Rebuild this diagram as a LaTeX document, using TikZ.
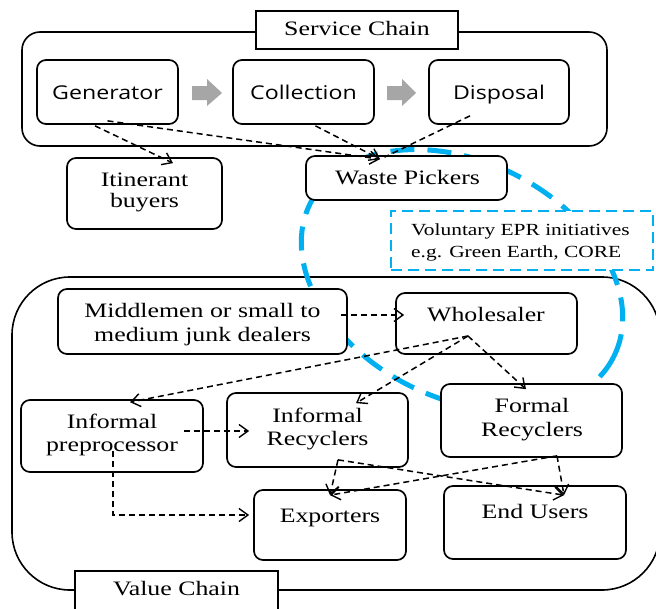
\documentclass[tikz,border=0pt]{standalone}
\usepackage{fontspec}
\setmainfont{Liberation Serif}[FakeStretch=1.26]
\newfontfamily\stagefont{Open Sans}[FakeStretch=1.22]
\usetikzlibrary{arrows.meta,calc}
\definecolor{eprblue}{RGB}{0,176,240}
\definecolor{flowgray}{RGB}{166,166,166}

\begin{document}
\begin{tikzpicture}[x=1pt,y=-1pt,
  box/.style={draw, line width=1.7pt, rounded corners=9pt, fill=white, inner sep=0pt},
  chainbox/.style={draw, line width=1.6pt},
  tagbox/.style={draw, line width=1.1pt, fill=white, inner sep=0pt},
  txt/.style={font=\fontsize{20.5}{23.5}\selectfont, align=center, inner sep=0pt},
  oneline/.style={text height=13.5pt, text depth=0pt},
  stage/.style={font=\stagefont\fontsize{19}{22}\selectfont, inner sep=0pt,
    text height=13.5pt, text depth=0pt},
  flow/.style={line width=1.5pt, dash pattern=on 6pt off 4pt,
    -{Straight Barb[length=9pt,width=13pt,line width=1.4pt]}},
  plainflow/.style={line width=1.5pt, dash pattern=on 6pt off 4pt},
  blockarrow/.style={fill=flowgray}
]
\useasboundingbox (0,0) rectangle (656,608);
\clip (0,0) rectangle (656,608);

% outer frames of the two chains
\draw[chainbox, rounded corners=18pt] (22,32) rectangle (607,146);
\draw[chainbox, rounded corners=58pt] (12,277) rectangle (660,590);

% EPR influence zone
\draw[eprblue, line width=5pt, dash pattern=on 24pt off 13pt,
      rotate around={-27:(462,280)}] (462,280) ellipse [x radius=170, y radius=118];
\node[draw=eprblue, line width=2.6pt, dash pattern=on 11pt off 6pt, fill=white,
      minimum width=262pt, minimum height=59pt, inner sep=0pt] (epr) at (522,240.5) {};
\node[anchor=west, align=left, inner sep=0pt, font=\fontsize{17}{22}\selectfont]
      (epr-t) at (411,242) {Voluntary EPR initiatives\\e.g. Green Earth, CORE};

% service chain stages
\node[box, minimum width=141pt, minimum height=64pt] (gen) at (107.5,92) {};
\node[box, minimum width=141pt, minimum height=64pt] (col) at (303.5,92) {};
\node[box, minimum width=140pt, minimum height=64pt] (disp) at (499,92) {};
\node[stage] (gen-t) at (107.5,92.5) {Generator};
\node[stage] (col-t) at (303.5,92.5) {Collection};
\node[stage] (disp-t) at (499,92.5) {Disposal};
\fill[blockarrow] (192,86) -- (207,86) -- (207,79) -- (222,93) -- (207,106) -- (207,100) -- (192,100) -- cycle;
\fill[blockarrow] (387,86) -- (402,86) -- (402,79) -- (416,93) -- (402,106) -- (402,100) -- (387,100) -- cycle;

\node[box, minimum width=155pt, minimum height=71pt] (itin) at (144.5,193.5) {};
\node[txt, font=\fontsize{20.5}{21.5}\selectfont] (itin-t) at (144.5,192.5) {Itinerant\\buyers};
\node[box, minimum width=201pt, minimum height=44pt] (wp) at (406.5,178) {};
\node[txt, oneline] (wp-t) at (407.5,178) {Waste Pickers};

% value chain actors
\node[box, minimum width=289pt, minimum height=65pt] (mid) at (202.5,321.5) {};
\node[txt] (mid-t) at (202.5,324.5) {Middlemen or small to\\medium junk dealers};
\node[box, minimum width=181pt, minimum height=61pt] (whs) at (486.5,323.5) {};
\node[txt, oneline] (whs-t) at (486,315) {Wholesaler};
\node[box, minimum width=182pt, minimum height=72pt] (prep) at (112,436) {};
\node[txt] (prep-t) at (112,435) {Informal\\preprocessor};
\node[box, minimum width=181pt, minimum height=74pt] (infrec) at (317.5,430) {};
\node[txt] (infrec-t) at (317.5,429) {Informal\\Recyclers};
\node[box, minimum width=181pt, minimum height=73pt] (formal) at (531.5,420.5) {};
\node[txt] (formal-t) at (532,419.5) {Formal\\Recyclers};
\node[box, minimum width=152pt, minimum height=70pt] (exp) at (330,525) {};
\node[txt, oneline] (exp-t) at (330,516) {Exporters};
\node[box, minimum width=182pt, minimum height=73pt] (endu) at (535,522.5) {};
\node[txt, oneline] (endu-t) at (535,512) {End Users};

% chain titles
\node[tagbox, minimum width=202pt, minimum height=38pt] (svc) at (357,30) {};
\node[txt, oneline] (svc-t) at (357,29) {Service Chain};
\node[tagbox, minimum width=203pt, minimum height=58pt] (val) at (176.5,600) {};
\node[txt, oneline] (val-t) at (176.5,589) {Value Chain};

% flows in the service chain
\draw[flow] ($(gen.south)+(-12.5,1)$) -- ($(itin.north)+(28.5,6)$);
\draw[flow] ($(gen.south)+(0,-4)$) -- ($(wp.north)+(-26.5,4)$);
\draw[flow] ($(col.south)+(12,1)$) -- ($(wp.north)+(-26.5,4)$);
\draw[plainflow] ($(disp.south)+(-29,-9)$) -- ($(wp.north)+(-22,2)$);

% flows in the value chain
\draw[flow] ($(mid.east)+(-7,-6.5)$) -- ($(whs.west)+(9,-8.5)$);
\draw[flow] ($(whs.center)+(-18.5,12.5)$) -- ($(prep.north)+(18,3)$);
\draw[flow] ($(whs.center)+(-18.5,12.5)$) -- ($(infrec.north)+(38.5,11)$);
\draw[flow] ($(whs.center)+(-18.5,12.5)$) -- ($(formal.north)+(-5.5,6)$);
\draw[flow] ($(prep.east)+(-20,-5)$) -- ($(infrec.west)+(23,1)$);
\draw[flow] ($(prep.center)+(1,15)$) |- ($(exp.west)+(-4,-10)$);
\draw[flow] ($(infrec.south)+(20.5,-8)$) -- ($(exp.north)+(0,6)$);
\draw[flow] ($(infrec.south)+(20.5,-8)$) -- ($(endu.north)+(29,10)$);
\draw[flow] ($(formal.south)+(25.5,-2)$) -- ($(exp.north)+(0,6)$);
\draw[flow] ($(formal.south)+(25.5,-2)$) -- ($(endu.north)+(29,10)$);
\end{tikzpicture}
\end{document}
